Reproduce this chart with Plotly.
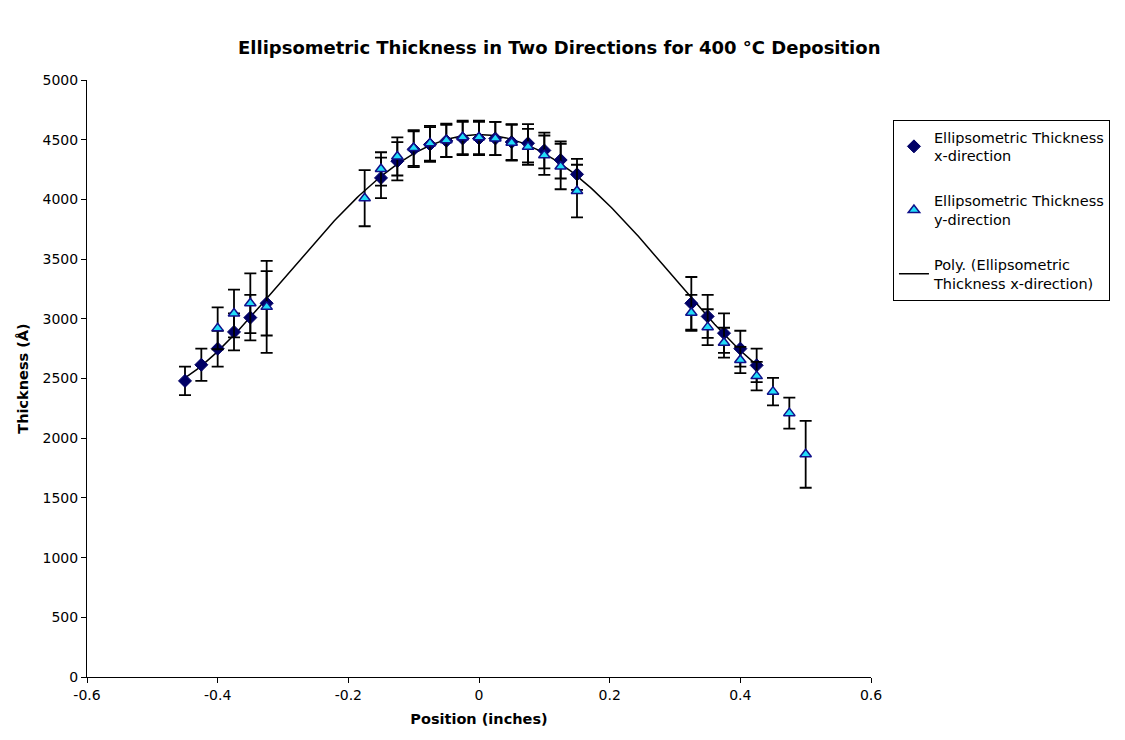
import numpy as np
import plotly.graph_objects as go

# x-direction data
x_pos = [-0.45, -0.425, -0.4, -0.375, -0.35, -0.325, -0.15, -0.125, -0.1, -0.075, -0.05, -0.025,
         0.0, 0.025, 0.05, 0.075, 0.1, 0.125, 0.15, 0.325, 0.35, 0.375, 0.4, 0.425]
x_thick = [2480, 2615, 2750, 2890, 3010, 3130, 4180, 4320, 4420, 4460, 4490, 4510,
           4510, 4510, 4480, 4470, 4410, 4330, 4210, 3130, 3020, 2880, 2750, 2610]
x_err = [120, 135, 150, 155, 190, 270, 170, 160, 150, 145, 135, 140,
         140, 140, 150, 160, 150, 155, 130, 220, 180, 165, 150, 140]

# y-direction data
y_pos = [-0.4, -0.375, -0.35, -0.325, -0.175, -0.15, -0.125, -0.1, -0.075, -0.05, -0.025, 0.0,
         0.025, 0.05, 0.075, 0.1, 0.125, 0.15, 0.325, 0.35, 0.375, 0.4, 0.425, 0.45, 0.475, 0.5]
y_thick = [2920, 3045, 3130, 3100, 4010, 4255, 4360, 4430, 4470, 4495, 4520, 4520,
           4510, 4475, 4440, 4370, 4275, 4070, 3050, 2930, 2800, 2655, 2520, 2390, 2210, 1865]
y_err = [175, 200, 250, 385, 235, 140, 160, 150, 145, 140, 140, 140,
         140, 150, 150, 165, 190, 220, 150, 150, 125, 110, 120, 115, 130, 280]

x_ticks = [-0.6, -0.4, -0.2, 0, 0.2, 0.4, 0.6]
x_tick_labels = ["-0.6", "-0.4", "-0.2", "0", "0.2", "0.4", "0.6"]
y_ticks = [0, 500, 1000, 1500, 2000, 2500, 3000, 3500, 4000, 4500, 5000]

# polynomial trendline fitted to x-direction data
coef = np.polyfit(x_pos, x_thick, 4)
xs = np.linspace(min(x_pos), max(x_pos), 300)
ys = np.polyval(coef, xs)

FONT = "DejaVu Sans, Liberation Sans, Arial, sans-serif"

fig = go.Figure()
fig.add_trace(go.Scatter(
    x=xs, y=ys, mode="lines", line=dict(color="black", width=1.5),
    name="Poly. (Ellipsometric<br>Thickness x-direction)", legendrank=3, legendgroup="c"))
fig.add_trace(go.Scatter(
    x=x_pos, y=x_thick, mode="markers",
    marker=dict(symbol="diamond", size=10, color="#000066", line=dict(color="#000066", width=1)),
    error_y=dict(type="data", array=x_err, visible=True, color="black", thickness=1.8, width=6),
    name="Ellipsometric Thickness<br>x-direction", legendrank=1, legendgroup="a"))
fig.add_trace(go.Scatter(
    x=y_pos, y=y_thick, mode="markers",
    marker=dict(symbol="triangle-up", size=10, color="#22DDF8", line=dict(color="#10108a", width=1.5)),
    error_y=dict(type="data", array=y_err, visible=True, color="black", thickness=1.8, width=6),
    name="Ellipsometric Thickness<br>y-direction", legendrank=2, legendgroup="b"))

fig.update_layout(
    width=1125, height=740,
    paper_bgcolor="white", plot_bgcolor="white",
    margin=dict(l=79, r=262, t=72, b=71, autoexpand=False),
    font=dict(family=FONT, size=14, color="black"),
    title=dict(text="<b>Ellipsometric Thickness in Two Directions for 400 °C Deposition</b>",
               x=0.49, xanchor="center", y=0.946, yanchor="middle", font=dict(size=18, family=FONT)),
    legend=dict(x=1.028, xanchor="left", y=0.933, yanchor="top",
                bordercolor="black", borderwidth=1, bgcolor="white",
                font=dict(size=14.5, family=FONT), tracegroupgap=23, itemwidth=30,
                traceorder="grouped"),
    showlegend=True,
)
fig.update_xaxes(range=[-0.6, 0.6], tickvals=x_ticks, ticktext=x_tick_labels, automargin=False,
                 showgrid=False, zeroline=False, showline=True, linecolor="black", linewidth=1,
                 ticks="outside", ticklen=5, tickcolor="black", tickfont=dict(size=14),
                 title=dict(text="<b>Position (inches)</b>", font=dict(size=14.5), standoff=12))
fig.update_yaxes(range=[0, 5000], tickvals=y_ticks, automargin=False,
                 showgrid=False, zeroline=False, showline=True, linecolor="black", linewidth=1,
                 ticks="outside", ticklen=5, tickcolor="black", tickfont=dict(size=14),
                 title=dict(text="<b>Thickness (Å)</b>", font=dict(size=14.5), standoff=10))

fig.write_html("out.html")
